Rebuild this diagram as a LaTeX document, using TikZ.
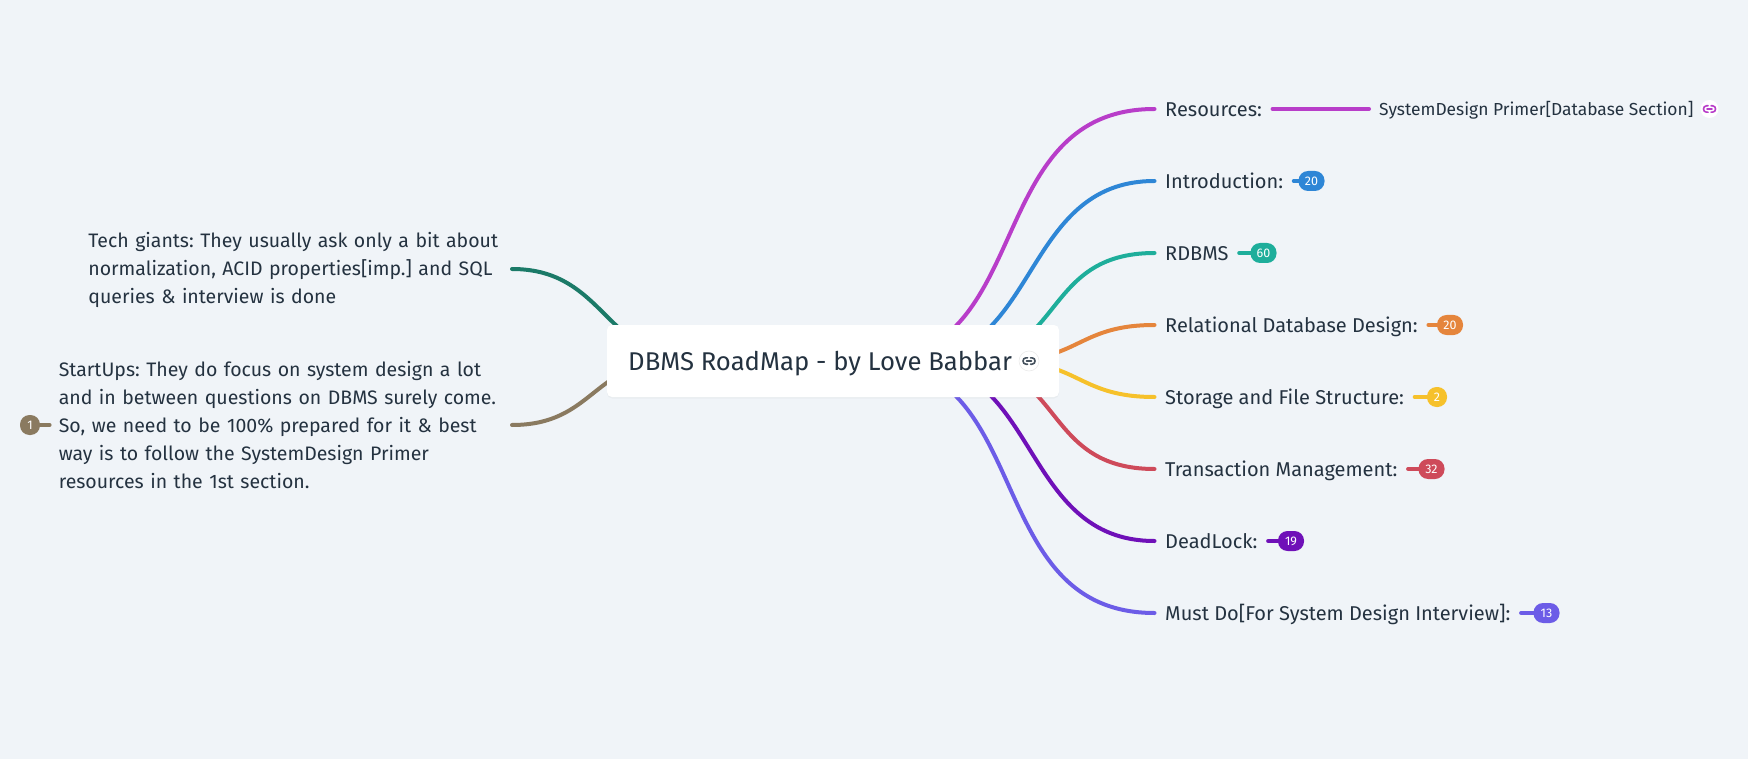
\documentclass[tikz,border=0pt]{standalone}
\usepackage{fontspec}
\usetikzlibrary{shadows}
\setmainfont{Fira Sans}
\definecolor{bgc}{HTML}{F0F4F8}
\definecolor{ink}{HTML}{243240}
\definecolor{cpurple}{HTML}{B83DC9}
\definecolor{cblue}{HTML}{2E86D6}
\definecolor{cteal}{HTML}{1EAE9B}
\definecolor{corange}{HTML}{E5853C}
\definecolor{cyellow}{HTML}{F6C12B}
\definecolor{cred}{HTML}{CE4A5A}
\definecolor{cviolet}{HTML}{6F10B8}
\definecolor{cindigo}{HTML}{6C5CE7}
\definecolor{cgreen}{HTML}{1B7A68}
\definecolor{cbrown}{HTML}{8A7A60}
\pgfdeclarelayer{bg}
\pgfsetlayers{bg,main}
\newcommand{\topstrut}{\rule{0pt}{18pt}}
\newcommand{\botstrut}{\rule[-4pt]{0pt}{4pt}}
\tikzset{
  x=1pt,y=-1pt,
  topic/.style={anchor=west,inner xsep=10.5pt,inner ysep=0pt,text=ink,text height=18pt,text depth=3pt,font=\fontsize{20}{28}\selectfont\frenchspacing},
  subtopic/.style={topic,inner xsep=10pt,text height=16.5pt,text depth=3pt,font=\fontsize{17.4}{25}\selectfont\frenchspacing},
  note/.style={anchor=east,inner xsep=9pt,inner ysep=0pt,text=ink,align=left,font=\fontsize{19.5}{28}\selectfont\frenchspacing},
  badge/.style={fill=#1,text=white,rounded corners=9.5pt,minimum height=20pt,minimum width=26pt,inner sep=0pt,font=\fontsize{12.5}{12.5}\selectfont},
  rootbox/.style={fill=white,rounded corners=5pt,minimum width=452pt,minimum height=72pt,inner sep=0pt,drop shadow={opacity=.06,shadow xshift=0pt,shadow yshift=-1.5pt}},
  roottext/.style={anchor=west,inner sep=0pt,text=ink,text height=24pt,text depth=5pt,font=\fontsize{25.7}{32}\selectfont\frenchspacing},
  iconbase/.style={circle,fill=white,minimum size=20pt,inner sep=0pt},
  link/.style={line width=4pt,line cap=round,#1},
  glyph/.pic={
    \draw[pic actions,line width=1.6pt,line cap=round]
      (-1.5,-3.2) -- (-3,-3.2) .. controls (-7,-3.2) and (-7,3.2) .. (-3,3.2) -- (-1.5,3.2)
      (1.5,-3.2) -- (3,-3.2) .. controls (7,-3.2) and (7,3.2) .. (3,3.2) -- (1.5,3.2)
      (-2.5,0) -- (2.5,0);
  }
}
\begin{document}
\begin{tikzpicture}
\useasboundingbox (0,0) rectangle (1748,759);
\begin{pgfonlayer}{bg}
\fill[bgc] (0,0) rectangle (1748,759);
\end{pgfonlayer}

\node[rootbox] (root) at (833,361) {};
\node[roottext] (roottitle) at (628,361) {DBMS RoadMap - by Love Babbar};
\node[iconbase,draw=black!8,line width=.6pt] (rooticon) at (1029,361) {};
\pic[draw=ink!85] at (rooticon.center) {glyph};

\node[topic] (n1) at (1154.5,109) {Resources:};
\node[topic] (n2) at (1154.5,181) {Introduction:};
\node[topic] (n3) at (1154.5,253) {RDBMS};
\node[topic] (n4) at (1154.5,325) {Relational Database Design:};
\node[topic] (n5) at (1154.5,397) {Storage and File Structure:};
\node[topic] (n6) at (1154.5,469) {Transaction Management:};
\node[topic] (n7) at (1154.5,541) {DeadLock:};
\node[topic] (n8) at (1154.5,613) {Must Do[For System Design Interview]:};

\node[subtopic] (sub) at (1369,109) {SystemDesign Primer[Database Section]};
\node[iconbase,minimum size=18pt] (subicon) at (1709.5,109) {};
\pic[draw=cpurple] at (subicon.center) {glyph};

\node[badge=cblue] (b2) at (1311.5,181) {20};
\node[badge=cteal] (b3) at (1263.5,253) {60};
\node[badge=corange] (b4) at (1450,325) {20};
\node[badge=cyellow,minimum width=20pt] (b5) at (1437,397) {2};
\node[badge=cred] (b6) at (1431.5,469) {32};
\node[badge=cviolet] (b7) at (1291,541) {19};
\node[badge=cindigo] (b8) at (1546.5,613) {13};

\node[note,text width=414.4pt] (tech) at (512,269) {\topstrut Tech giants: They usually ask only a bit about\\normalization, ACID properties[imp.] and SQL\\queries \& interview is done\botstrut};
\node[note,text width=444pt] (start) at (512,425) {\topstrut StartUps: They do focus on system design a lot\\and in between questions on DBMS surely come.\\So, we need to be 100\% prepared for it \& best\\way is to follow the SystemDesign Primer\\resources in the 1st section.\botstrut};
\node[badge=cbrown,minimum width=20pt] (b9) at (30,425) {1};

\coordinate (s1) at (869,361);
\coordinate (s2) at (910,361);
\coordinate (s3) at (956,361);
\coordinate (s4) at (1003,361);
\coordinate (s5) at (1003,361);
\coordinate (s6) at (956,361);
\coordinate (s7) at (910,361);
\coordinate (s8) at (869,361);
\coordinate (s9) at (699,361);
\coordinate (s10) at (675,361);

\begin{pgfonlayer}{bg}
\draw[link=cpurple] (s1) .. controls +(168,0) and +(-174.5,0) .. (n1.west);
\draw[link=cblue] (s2) .. controls +(130,0) and +(-134.5,0) .. (n2.west);
\draw[link=cteal] (s3) .. controls +(110,0) and +(-114.5,0) .. (n3.west);
\draw[link=corange] (s4) .. controls +(76.5,0) and +(-76.5,0) .. (n4.west);
\draw[link=cyellow] (s5) .. controls +(76.5,0) and +(-76.5,0) .. (n5.west);
\draw[link=cred] (s6) .. controls +(110,0) and +(-114.5,0) .. (n6.west);
\draw[link=cviolet] (s7) .. controls +(130,0) and +(-134.5,0) .. (n7.west);
\draw[link=cindigo] (s8) .. controls +(168,0) and +(-174.5,0) .. (n8.west);
\draw[link=cgreen] (s9) .. controls +(-94.5,0) and +(94.5,0) .. (tech.east);
\draw[link=cbrown] (s10) .. controls +(-82.5,0) and +(82.5,0) .. (start.east);
\draw[link=cpurple] (n1.east) -- (sub.west);
\draw[link=cblue] (n2.east) -- (b2.west);
\draw[link=cteal] (n3.east) -- (b3.west);
\draw[link=corange] (n4.east) -- (b4.west);
\draw[link=cyellow] (n5.east) -- (b5.west);
\draw[link=cred] (n6.east) -- (b6.west);
\draw[link=cviolet] (n7.east) -- (b7.west);
\draw[link=cindigo] (n8.east) -- (b8.west);
\draw[link=cbrown] (b9.east) -- (start.west);
\end{pgfonlayer}
\end{tikzpicture}
\end{document}
